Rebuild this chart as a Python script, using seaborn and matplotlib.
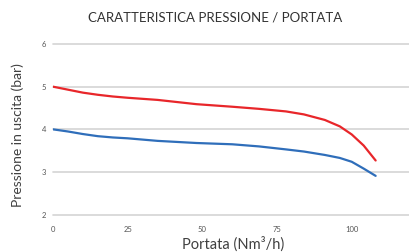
import matplotlib
matplotlib.use("Agg")
import matplotlib.pyplot as plt
import seaborn as sns
import pandas as pd

portata = [0, 5, 10, 15, 20, 25, 35, 48, 60, 69, 78, 84, 91, 96, 100, 104, 108]
serie_rossa = [5.00, 4.93, 4.86, 4.81, 4.77, 4.74, 4.69, 4.59, 4.53, 4.48, 4.42, 4.35, 4.22, 4.07, 3.88, 3.62, 3.27]
serie_blu = [4.00, 3.95, 3.89, 3.84, 3.81, 3.79, 3.73, 3.68, 3.65, 3.60, 3.53, 3.48, 3.40, 3.33, 3.24, 3.08, 2.91]
x_ticks = [0, 25, 50, 75, 100]
y_ticks = [2, 3, 4, 5, 6]

sns.set_theme(style="white")
plt.rcParams['font.family'] = ['Lato', 'DejaVu Sans']

df = pd.DataFrame({"Portata": portata + portata,
                   "Pressione": serie_rossa + serie_blu,
                   "Serie": ["rossa"] * len(portata) + ["blu"] * len(portata)})

fig = plt.figure(figsize=(4.10, 2.52), dpi=100)
ax = fig.add_axes([53/410, (252-214.7)/252, 1 - 53/410, (214.7-44)/252])

sns.lineplot(data=df, x="Portata", y="Pressione", hue="Serie",
             palette={"rossa": "#e8262a", "blu": "#2f6eba"},
             linewidth=1.6, legend=False, ax=ax, zorder=3)

ax.set_xlim(0, 119.5)
ax.set_ylim(2, 6)
ax.set_xticks(x_ticks)
ax.set_yticks(y_ticks)
ax.set_xticklabels([str(v) for v in x_ticks])
ax.set_yticklabels([str(v) for v in y_ticks])
ax.grid(False)
for v in y_ticks:
    ax.axhline(v, color="#d4d4d4", linewidth=1.2, zorder=1, clip_on=False)
for s in ax.spines.values():
    s.set_visible(False)
ax.tick_params(axis="x", length=0, pad=8, labelsize=5.5, labelcolor="#555555")
ax.tick_params(axis="y", length=0, pad=5, labelsize=5.5, labelcolor="#555555")

ax.set_xlabel("Portata (Nm³/h)", fontsize=10.5, color="#404040")
ax.set_ylabel("Pressione in uscita (bar)", fontsize=10, color="#404040")
ax.xaxis.set_label_coords(0.505, -0.13)
ax.yaxis.set_label_coords(-0.082, 0.465)

fig.text(215/410, 1 - 17/252, "CARATTERISTICA PRESSIONE / PORTATA", ha="center", va="center",
         fontsize=9.5, color="#333333")

fig.savefig("out.png", dpi=100)
